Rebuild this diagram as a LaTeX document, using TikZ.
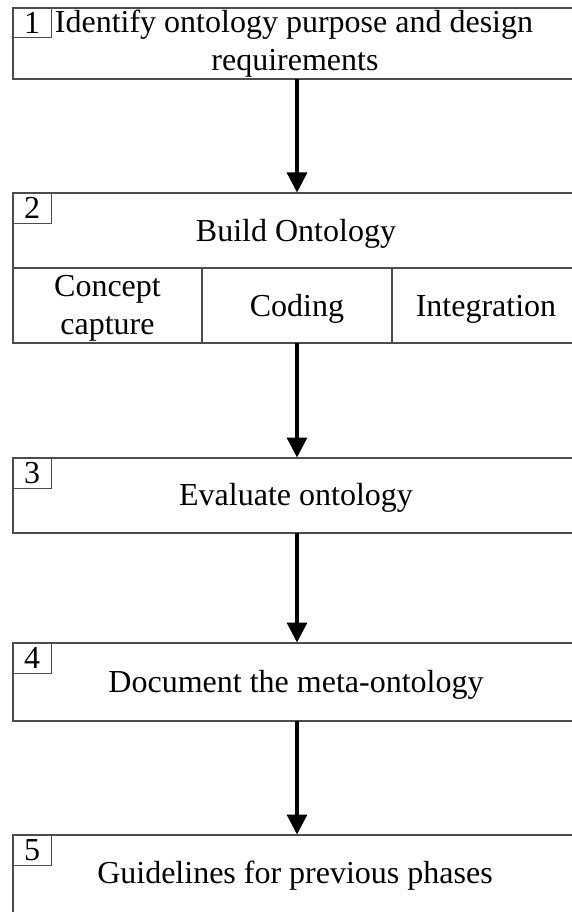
\documentclass[tikz,border=0pt]{standalone}
\usepackage{fontspec}
\setmainfont{Liberation Serif}
\usetikzlibrary{arrows.meta}
\begin{document}
\begin{tikzpicture}[x=1pt,y=-1pt,
  box/.style={draw=black!70, line width=1.3pt, rectangle, inner sep=0pt, outer sep=0pt, anchor=north west, minimum width=568pt},
  cell/.style={draw=black!70, line width=1.2pt, rectangle, inner sep=0pt, outer sep=0pt, anchor=north west},
  numbox/.style={draw=black!70, line width=1pt, rectangle, inner sep=0pt, outer sep=0pt, anchor=north west, minimum width=38pt, minimum height=30pt, font=\fontsize{32}{38}\selectfont},
  txt/.style={anchor=base, inner sep=0pt, font=\fontsize{32}{38}\selectfont},
  arr/.style={line width=3.2pt, -{Triangle[width=20pt,length=20pt]}, shorten >=0.5pt}
]
\useasboundingbox (0,0) rectangle (571,912);
\fill[white] (0,0) rectangle (571,912);
% box 1
\node[box, minimum height=71pt] (b1) at (13,8) {};
\node[numbox] (n1) at (b1.north west) {1};
\node[txt] (t1a) at (294,32.5) {Identify ontology purpose and design};
\node[txt] (t1b) at (295,71) {requirements};
% box 2
\node[box, minimum height=75pt] (b2) at (13,193) {};
\node[cell, minimum width=189pt, minimum height=75pt] (c1) at (b2.south west) {};
\node[cell, minimum width=190pt, minimum height=75pt] (c2) at (c1.north east) {};
\node[cell, minimum width=189pt, minimum height=75pt] (c3) at (c2.north east) {};
\node[numbox] (n2) at (b2.north west) {2};
\node[txt] (t2) at (296,241) {Build Ontology};
\node[txt] (t2a) at (107.5,296) {Concept};
\node[txt] (t2b) at (107.5,334) {capture};
\node[txt] (t2c) at (c2.center |- 0,316) {Coding};
\node[txt] (t2d) at (486,316) {Integration};
% box 3
\node[box, minimum height=75pt] (b3) at (13,458) {};
\node[numbox] (n3) at (b3.north west) {3};
\node[txt] (t3) at (296,505) {Evaluate ontology};
% box 4
\node[box, minimum height=78pt] (b4) at (13,643) {};
\node[numbox] (n4) at (b4.north west) {4};
\node[txt] (t4) at (296,692) {Document the meta-ontology};
% box 5
\node[box, minimum height=90pt] (b5) at (13,835) {};
\node[numbox] (n5) at (b5.north west) {5};
\node[txt] (t5) at (295,883) {Guidelines for previous phases};
% arrows
\draw[arr] (b1.south) -- (b2.north);
\draw[arr] (c2.south) -- (c2.south |- b3.north);
\draw[arr] (b3.south) -- (b4.north);
\draw[arr] (b4.south) -- (b5.north);
\end{tikzpicture}
\end{document}
